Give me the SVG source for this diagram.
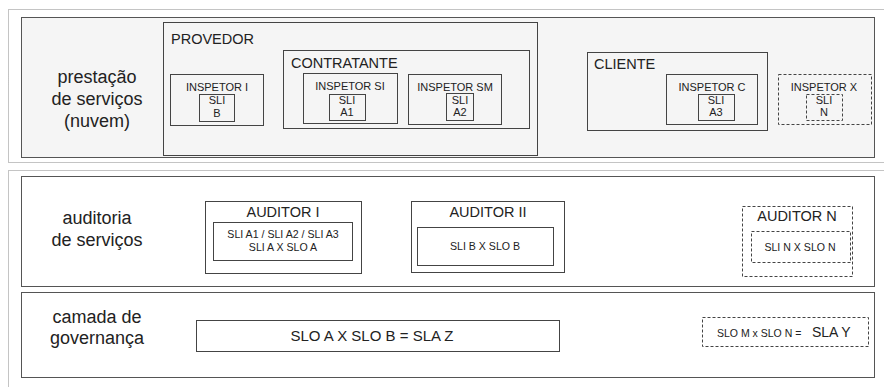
<svg xmlns="http://www.w3.org/2000/svg" width="884" height="387" viewBox="0 0 884 387">
<style>
text{font-family:"Liberation Sans",Arial,sans-serif;fill:#222}
.dot{fill:none;stroke:#888;stroke-width:1;stroke-dasharray:1 1}
.pan{stroke:#555;stroke-width:1}
.box{fill:none;stroke:#444;stroke-width:1}
.dash{fill:none;stroke:#444;stroke-width:1;stroke-dasharray:3 2}
.lbl{font-size:18px;text-anchor:middle}
.big{font-size:14.5px}
.sm{font-size:11px;text-anchor:middle}
.xs{font-size:10.6px;text-anchor:middle}
</style>
<rect width="884" height="387" fill="#fff"/>
<g id="layers">
<rect x="8.5" y="9.5" width="890" height="153" fill="#f8f8f8" class="dot"/>
<rect x="21.5" y="17.5" width="853" height="140" fill="#f5f5f5" class="pan"/>
<rect x="8.5" y="170.5" width="890" height="230" fill="#fff" class="dot"/>
<rect x="21.5" y="176.5" width="853" height="110" fill="#fff" class="pan"/>
<rect x="21.5" y="292.5" width="853" height="85" fill="#fff" class="pan"/>
</g>
<g id="layer-labels">
<text class="lbl" x="97" y="83">prestação</text>
<text class="lbl" x="97" y="105">de serviços</text>
<text class="lbl" x="97" y="127">(nuvem)</text>
<text class="lbl" x="97" y="224">auditoria</text>
<text class="lbl" x="97" y="246">de serviços</text>
<text class="lbl" x="97" y="323">camada de</text>
<text class="lbl" x="97" y="344">governança</text>
</g>
<g id="provedor">
<rect class="box" x="163.5" y="22.5" width="374" height="133"/>
<text class="big" x="171" y="44">PROVEDOR</text>
</g>
<g id="inspetor-i">
<rect class="box" x="170.5" y="74.5" width="93" height="51"/>
<text class="sm" x="217" y="91">INSPETOR I</text>
<rect class="box" x="199.5" y="94.5" width="35" height="27"/>
<text class="sm" x="217" y="104">SLI</text>
<text class="sm" x="217" y="117">B</text>
</g>
<g id="contratante">
<rect class="box" x="283.5" y="50.5" width="246" height="78"/>
<text class="big" x="291" y="68">CONTRATANTE</text>
</g>
<g id="inspetor-si">
<rect class="box" x="303.5" y="73.5" width="94" height="50"/>
<text class="sm" x="350" y="90">INSPETOR SI</text>
<rect class="box" x="329.5" y="94.5" width="36" height="26"/>
<text class="sm" x="347" y="104">SLI</text>
<text class="sm" x="347" y="116">A1</text>
</g>
<g id="inspetor-sm">
<rect class="box" x="408.5" y="74.5" width="93" height="50"/>
<text class="sm" x="455" y="91">INSPETOR SM</text>
<rect class="box" x="446.5" y="93.5" width="27" height="27"/>
<text class="sm" x="460" y="104">SLI</text>
<text class="sm" x="460" y="116">A2</text>
</g>
<g id="cliente">
<rect class="box" x="587.5" y="52.5" width="180" height="78"/>
<text class="big" x="594" y="69">CLIENTE</text>
</g>
<g id="inspetor-c">
<rect class="box" x="666.5" y="74.5" width="91" height="50"/>
<text class="sm" x="712" y="91">INSPETOR C</text>
<rect class="box" x="698.5" y="94.5" width="36" height="26"/>
<text class="sm" x="716" y="104">SLI</text>
<text class="sm" x="716" y="116">A3</text>
</g>
<g id="inspetor-x">
<rect class="dash" x="778.5" y="74.5" width="93" height="50"/>
<text class="sm" x="824" y="91">INSPETOR X</text>
<rect class="dash" x="806.5" y="94.5" width="36" height="26"/>
<text class="sm" x="824" y="104">SLI</text>
<text class="sm" x="824" y="116">N</text>
</g>
<g id="auditor-i">
<rect class="box" x="205.5" y="201.5" width="156" height="72"/>
<text class="big" x="283" y="217" text-anchor="middle">AUDITOR I</text>
<rect class="box" x="213.5" y="222.5" width="139" height="38"/>
<text class="xs" x="283" y="238">SLI A1 / SLI A2 / SLI A3</text>
<text class="xs" x="283" y="251">SLI A X SLO A</text>
</g>
<g id="auditor-ii">
<rect class="box" x="411.5" y="201.5" width="153" height="71"/>
<text class="big" x="488" y="217" text-anchor="middle">AUDITOR II</text>
<rect class="box" x="417.5" y="227.5" width="136" height="38"/>
<text class="xs" x="485" y="250">SLI B X SLO B</text>
</g>
<g id="auditor-n">
<rect class="dash" x="742.5" y="206.5" width="110" height="70"/>
<text class="big" x="797" y="221" text-anchor="middle">AUDITOR N</text>
<rect class="dash" x="751.5" y="231.5" width="99" height="31"/>
<text class="xs" x="800" y="251">SLI N X SLO N</text>
</g>
<g id="sla-z">
<rect class="box" x="196.5" y="320.5" width="363" height="31"/>
<text x="372" y="341" font-size="15" text-anchor="middle">SLO A X SLO B = SLA Z</text>
</g>
<g id="sla-y">
<rect class="dash" x="702.5" y="317.5" width="166" height="29"/>
<text x="717" y="337" font-size="10.5">SLO M x SLO N = </text>
<text x="812" y="337" font-size="14">SLA Y</text>
</g>
<g id="connectors"/>
</svg>
